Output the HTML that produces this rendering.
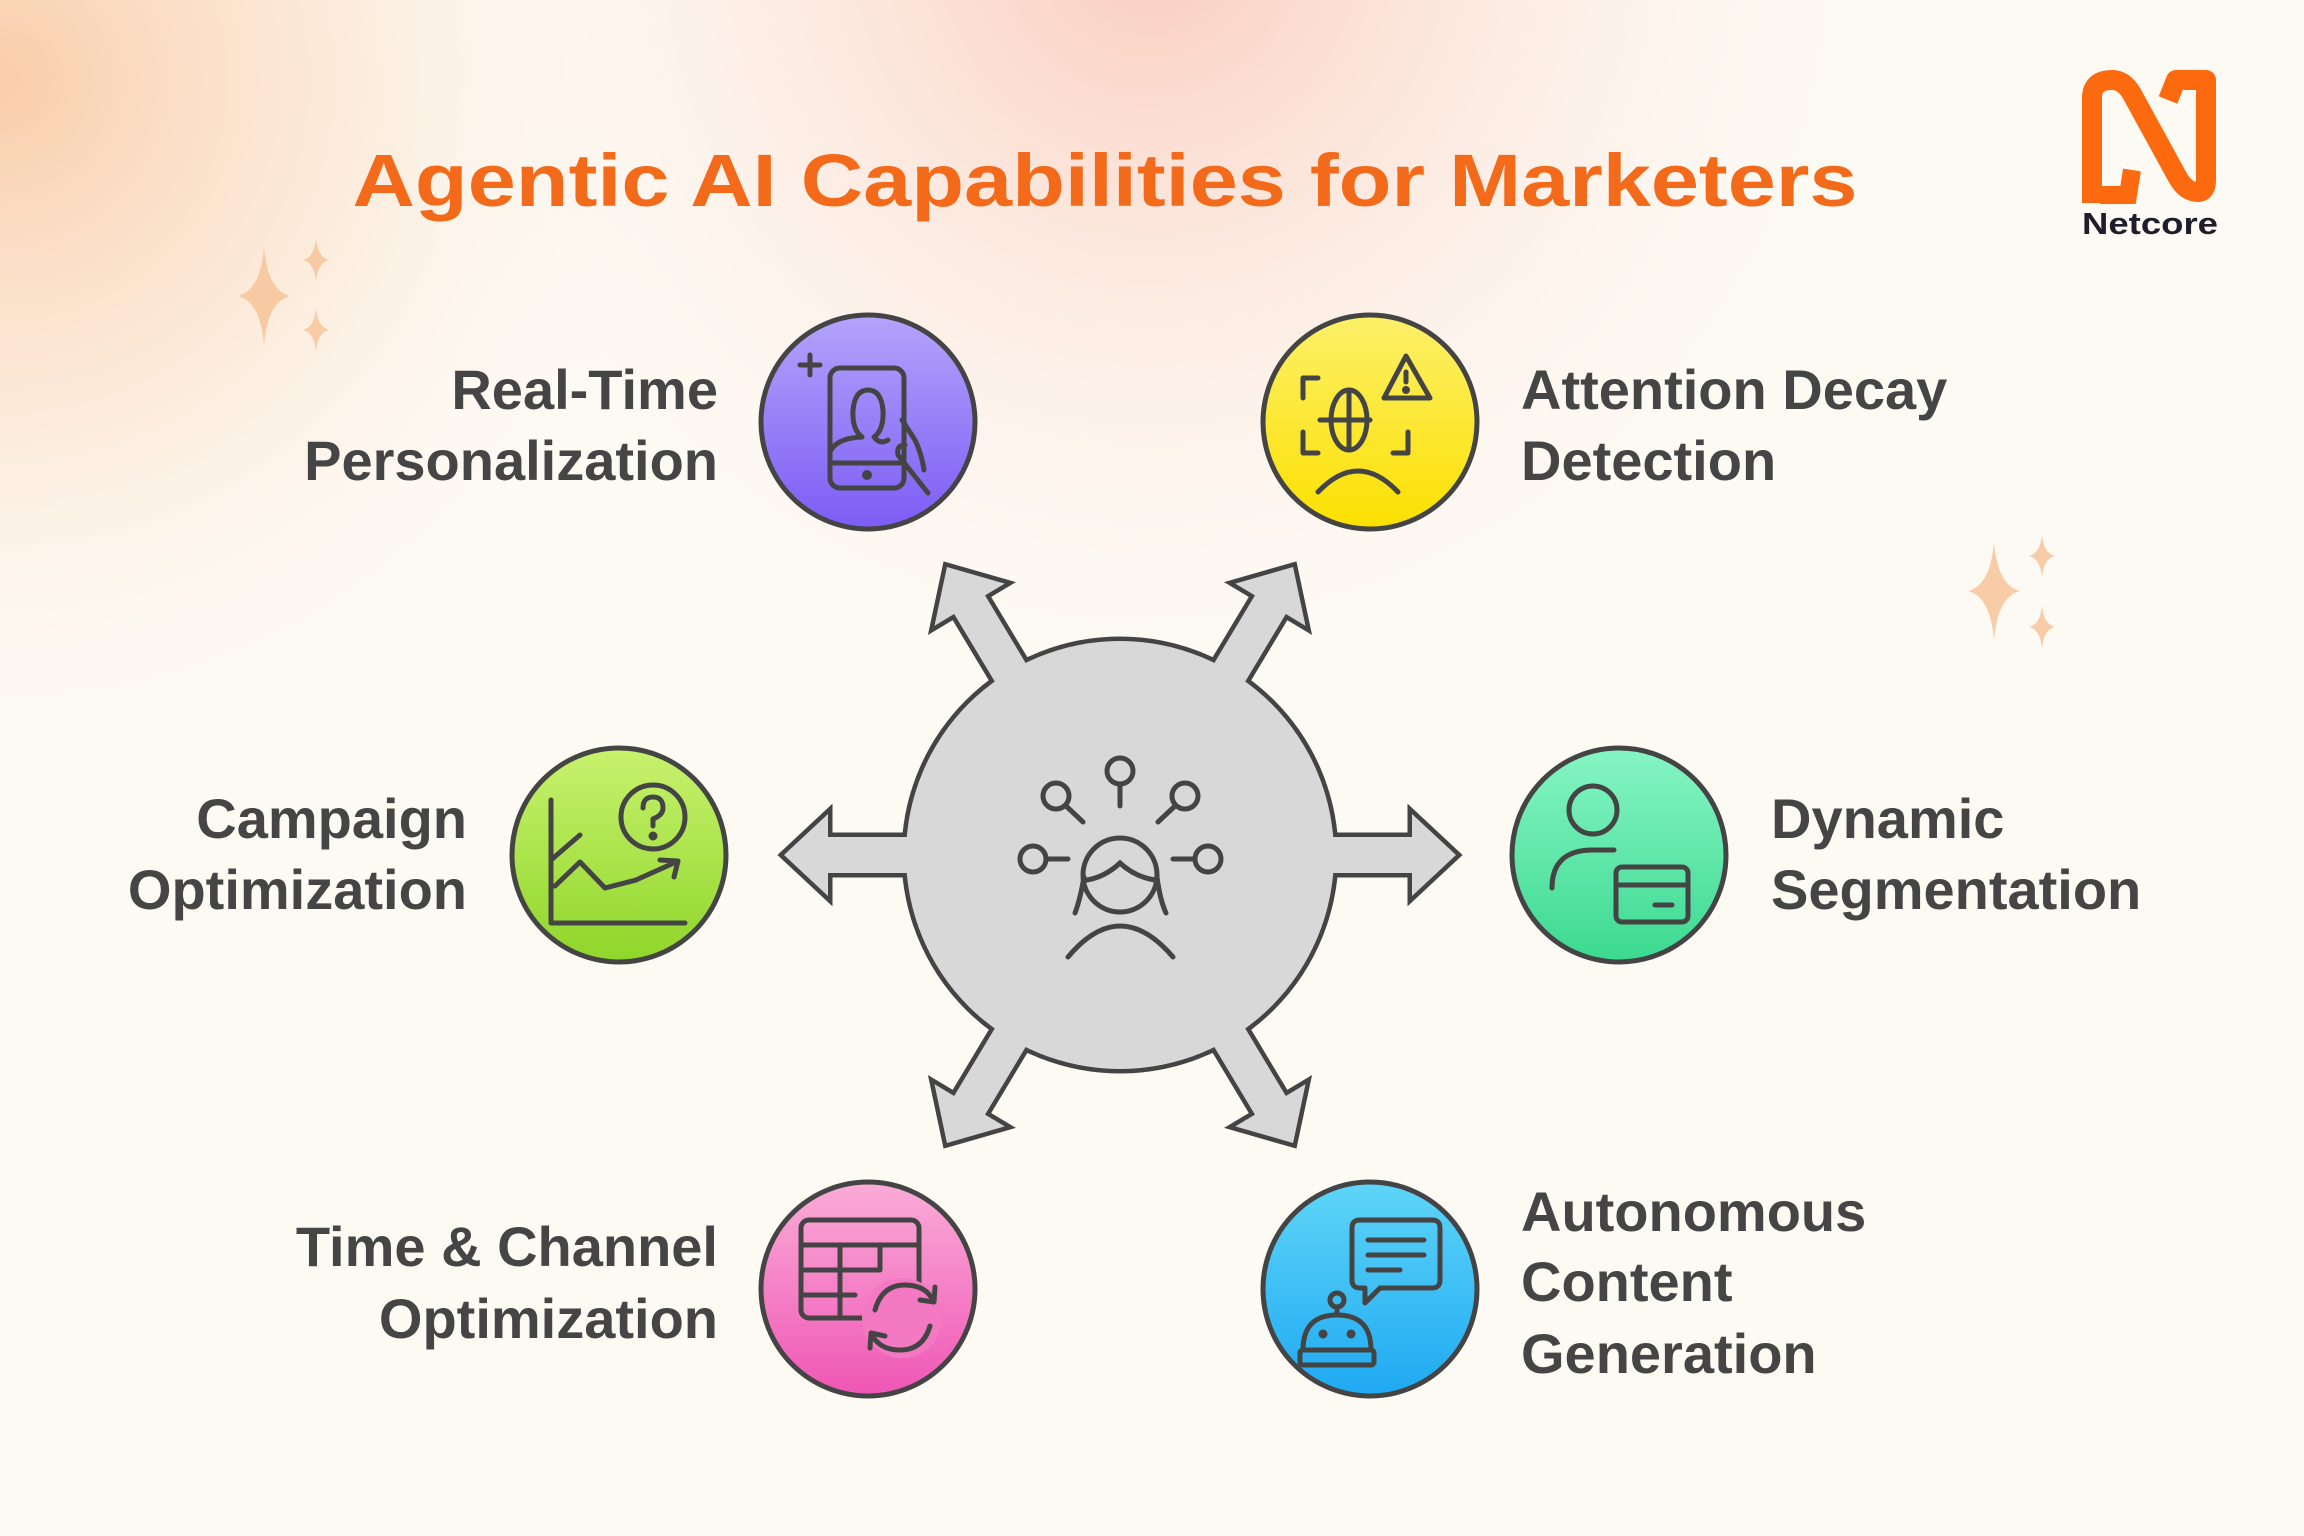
<!DOCTYPE html>
<html><head><meta charset="utf-8"><style>
html,body{margin:0;padding:0;width:2304px;height:1536px;overflow:hidden;background:#fdfaf4}
svg{display:block}
text{font-family:"Liberation Sans",sans-serif;font-weight:bold}
</style></head><body>
<svg width="2304" height="1536" viewBox="0 0 2304 1536" xmlns="http://www.w3.org/2000/svg">
<defs>
<radialGradient id="bg1" cx="0" cy="80" r="700" gradientUnits="userSpaceOnUse">
<stop offset="0" stop-color="#f9c59c" stop-opacity="0.85"/><stop offset="0.5" stop-color="#fbd9bd" stop-opacity="0.45"/><stop offset="1" stop-color="#fdfaf4" stop-opacity="0"/></radialGradient>
<radialGradient id="bg2" cx="1150" cy="-60" r="800" gradientUnits="userSpaceOnUse">
<stop offset="0" stop-color="#f9bfae" stop-opacity="0.8"/><stop offset="0.5" stop-color="#fcdccf" stop-opacity="0.4"/><stop offset="1" stop-color="#fdfaf4" stop-opacity="0"/></radialGradient>
<linearGradient id="gP" x1="0" y1="0" x2="0" y2="1"><stop offset="0" stop-color="#b3a4fb"/><stop offset="1" stop-color="#7c5cf5"/></linearGradient>
<linearGradient id="gY" x1="0" y1="0" x2="0" y2="1"><stop offset="0" stop-color="#fdf06a"/><stop offset="1" stop-color="#fbe000"/></linearGradient>
<linearGradient id="gL" x1="0" y1="0" x2="0" y2="1"><stop offset="0" stop-color="#c8f26e"/><stop offset="1" stop-color="#8fd62a"/></linearGradient>
<linearGradient id="gG" x1="0" y1="0" x2="0" y2="1"><stop offset="0" stop-color="#86f5c4"/><stop offset="1" stop-color="#3cd990"/></linearGradient>
<linearGradient id="gK" x1="0" y1="0" x2="0" y2="1"><stop offset="0" stop-color="#fbacd8"/><stop offset="1" stop-color="#ef56b4"/></linearGradient>
<linearGradient id="gB" x1="0" y1="0" x2="0" y2="1"><stop offset="0" stop-color="#5fd5f8"/><stop offset="1" stop-color="#1fa9f2"/></linearGradient>
<path id="arr" d="M0,-18 L292,-18 L292,-41 L336,0 L292,41 L292,18 L0,18 Z"/>
<path id="star" d="M0,-1 Q0.12,-0.12 1,0 Q0.12,0.12 0,1 Q-0.12,0.12 -1,0 Q-0.12,-0.12 0,-1 Z"/>
</defs>
<rect width="2304" height="1536" fill="#fdfaf4"/>
<rect width="2304" height="1536" fill="url(#bg1)"/>
<rect width="2304" height="1536" fill="url(#bg2)"/>

<g fill="#f6c79d" opacity="0.9">
<use href="#star" transform="translate(264,296) scale(26,50)"/>
<use href="#star" transform="translate(316,260) scale(13,22)"/>
<use href="#star" transform="translate(316,330) scale(13,22)"/>
<use href="#star" transform="translate(1994,591) scale(26,50)"/>
<use href="#star" transform="translate(2042,556) scale(13,22)"/>
<use href="#star" transform="translate(2042,627) scale(13,22)"/>
</g>

<text x="1105" y="206" text-anchor="middle" font-size="74" fill="#f26a1a" textLength="1505" lengthAdjust="spacingAndGlyphs">Agentic AI Capabilities for Marketers</text>

<path d="M2092,203 L2092,98 Q2092,80 2112,80 Q2124,80 2132,94 L2178,178 Q2186,192 2198,192 Q2206,192 2206,180 L2206,80 L2176,80 L2168,100" fill="none" stroke="#fb6a0f" stroke-width="20" stroke-linejoin="round"/>
<path d="M2100,195 L2128,195 L2132,170" fill="none" stroke="#fb6a0f" stroke-width="18"/>
<text x="2150" y="234" text-anchor="middle" font-size="31" fill="#1f1d2b" textLength="136" lengthAdjust="spacingAndGlyphs">Netcore</text>

<g transform="translate(1120,855)" stroke="#444" stroke-width="9" fill="#444" stroke-linejoin="miter">
<use href="#arr"/>
<use href="#arr" transform="rotate(180)"/>
<use href="#arr" transform="rotate(-59)"/>
<use href="#arr" transform="rotate(-121)"/>
<use href="#arr" transform="rotate(59)"/>
<use href="#arr" transform="rotate(121)"/>
<circle r="214"/>
</g>
<g transform="translate(1120,855)" fill="#d8d8d8">
<use href="#arr"/>
<use href="#arr" transform="rotate(180)"/>
<use href="#arr" transform="rotate(-59)"/>
<use href="#arr" transform="rotate(-121)"/>
<use href="#arr" transform="rotate(59)"/>
<use href="#arr" transform="rotate(121)"/>
<circle r="214"/>
</g>
<g fill="none" stroke="#444" stroke-width="5" stroke-linecap="round">
<circle cx="1120" cy="875" r="37"/>
<path d="M1087,880 Q1105,877 1120,863 Q1135,877 1155,880"/>
<path d="M1084,877 Q1080,900 1075,913"/>
<path d="M1157,877 Q1160,900 1166,913"/>
<path d="M1068,957 Q1120,895 1173,957"/>
<circle cx="1120" cy="771" r="13"/><path d="M1120,784 L1120,806"/>
<circle cx="1056" cy="796" r="13"/><path d="M1066,806 L1083,822"/>
<circle cx="1185" cy="796" r="13"/><path d="M1175,806 L1158,822"/>
<circle cx="1033" cy="859" r="13"/><path d="M1048,859 L1068,859"/>
<circle cx="1208" cy="859" r="13"/><path d="M1173,859 L1193,859"/>
</g>

<g stroke="#444" stroke-width="5">
<circle cx="868" cy="422" r="107" fill="url(#gP)"/>
<circle cx="1370" cy="422" r="107" fill="url(#gY)"/>
<circle cx="619" cy="855" r="107" fill="url(#gL)"/>
<circle cx="1619" cy="855" r="107" fill="url(#gG)"/>
<circle cx="868" cy="1289" r="107" fill="url(#gK)"/>
<circle cx="1370" cy="1289" r="107" fill="url(#gB)"/>
</g>

<g fill="none" stroke="#444" stroke-width="5" stroke-linecap="round" stroke-linejoin="round">
<rect x="830" y="368" width="74" height="120" rx="10"/>
<path d="M830,463 L904,463"/><circle cx="867" cy="475" r="2.5" fill="#444"/>
<path d="M862,437 Q852,430 853,410 Q855,390 868,390 Q881,390 883,410 Q884,430 874,437 Q880,445 888,440"/>
<path d="M831,450 Q838,438 862,437"/>
<path d="M902,420 L915,440 Q922,455 924,470"/>
<path d="M905,445 Q896,445 898,455 L928,493"/>
<path d="M810,355 L810,375 M800,365 L820,365"/>
<path d="M1318,378 L1303,378 L1303,398 M1303,432 L1303,453 L1318,453 M1393,453 L1408,453 L1408,432"/>
<ellipse cx="1349" cy="420" rx="18" ry="30"/>
<path d="M1349,390 L1349,450 M1320,420 L1370,420"/>
<path d="M1406,356 L1384,398 L1430,398 Z"/>
<path d="M1406,372 L1406,382"/><circle cx="1406" cy="390" r="1.5" fill="#444"/>
<path d="M1318,492 Q1358,450 1398,492"/>
<path d="M551,800 L551,923 L685,923"/>
<path d="M551,860 L580,835"/>
<path d="M555,886 L580,862 L605,888 L636,880 L676,862"/>
<path d="M660,860 L678,861 L674,877"/>
<circle cx="653" cy="817" r="32"/>
<path d="M643,808 Q643,797 653,797 Q663,797 663,808 Q663,815 653,819 L653,826"/>
<circle cx="653" cy="836" r="2" fill="#444"/>
<circle cx="1593" cy="810" r="24"/>
<path d="M1552,888 Q1552,850 1593,850 L1614,850"/>
<rect x="1616" y="867" width="72" height="55" rx="6"/>
<path d="M1616,885 L1688,885 M1655,905 L1672,905"/>
<rect x="801" y="1220" width="118" height="98" rx="8"/>
<path d="M801,1245 L919,1245 M801,1270 L880,1270 M801,1295 L855,1295 M840,1245 L840,1318 M880,1245 L880,1270"/>
<circle cx="902" cy="1318" r="40" fill="#f279c2" stroke="none"/>
<path d="M875,1310 Q882,1285 905,1285 Q925,1285 933,1300"/>
<path d="M935,1287 L934,1302 L920,1300"/>
<path d="M930,1326 Q923,1350 900,1350 Q880,1350 872,1335"/>
<path d="M870,1348 L871,1333 L885,1336"/>
<path d="M1360,1220 L1432,1220 Q1440,1220 1440,1228 L1440,1280 Q1440,1288 1432,1288 L1380,1288 L1365,1303 L1365,1288 L1360,1288 Q1352,1288 1352,1280 L1352,1228 Q1352,1220 1360,1220 Z"/>
<path d="M1368,1240 L1424,1240 M1368,1255 L1424,1255 M1368,1270 L1400,1270"/>
<circle cx="1337" cy="1300" r="7"/>
<path d="M1337,1307 L1337,1315"/>
<path d="M1303,1350 Q1303,1315 1337,1315 Q1371,1315 1371,1350 Z"/>
<rect x="1300" y="1350" width="74" height="15" rx="3"/>
<circle cx="1323" cy="1334" r="2" fill="#444"/><circle cx="1351" cy="1334" r="2" fill="#444"/>
</g>

<g font-size="56" fill="#454545">
<text x="718" y="409" text-anchor="end">Real-Time</text>
<text x="718" y="480" text-anchor="end">Personalization</text>
<text x="1521" y="409">Attention Decay</text>
<text x="1521" y="480">Detection</text>
<text x="467" y="838" text-anchor="end">Campaign</text>
<text x="467" y="909" text-anchor="end">Optimization</text>
<text x="1771" y="838">Dynamic</text>
<text x="1771" y="909">Segmentation</text>
<text x="718" y="1266" text-anchor="end">Time &amp; Channel</text>
<text x="718" y="1338" text-anchor="end">Optimization</text>
<text x="1521" y="1231">Autonomous</text>
<text x="1521" y="1301">Content</text>
<text x="1521" y="1373">Generation</text>
</g>
</svg>
</body></html>
